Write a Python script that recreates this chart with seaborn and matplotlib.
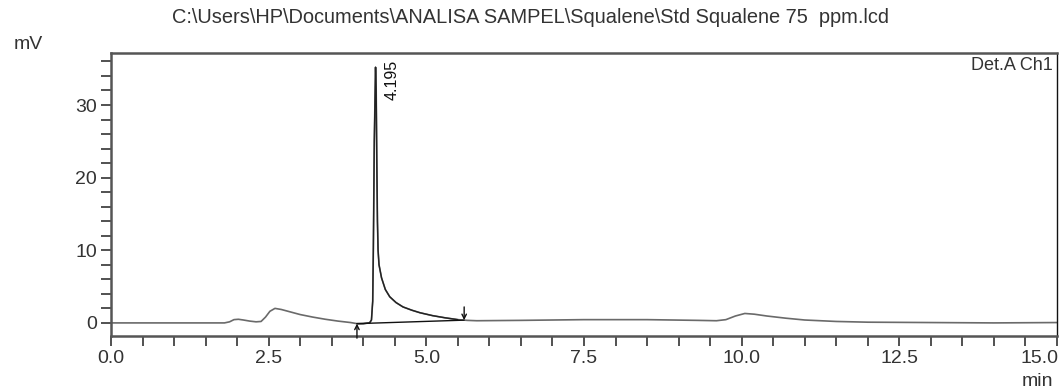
import matplotlib
matplotlib.use("Agg")
import matplotlib.pyplot as plt
from matplotlib.ticker import MultipleLocator, FuncFormatter
from matplotlib.transforms import blended_transform_factory, offset_copy
import seaborn as sns
import pandas as pd

# Chromatogram trace (retention time in min, detector signal in mV)
time_min = [
    0.0, 1.0, 1.8, 1.88, 1.95, 2.02, 2.1, 2.2, 2.3, 2.38, 2.45, 2.52, 2.6,
    2.7, 2.85, 3.0, 3.2, 3.4, 3.6, 3.8, 3.9, 4.0, 4.1, 4.13, 4.15, 4.16,
    4.175, 4.195, 4.205, 4.215, 4.225, 4.235, 4.25, 4.29, 4.35, 4.42, 4.52,
    4.63, 4.77, 4.9, 5.1, 5.3, 5.5, 5.65, 5.8, 6.5, 7.5, 8.5, 9.3, 9.6,
    9.75, 9.9, 10.05, 10.2, 10.4, 10.7, 11.0, 11.5, 12.0, 13.0, 14.0, 15.0,
]
signal_mv = [
    0.0, 0.0, 0.0, 0.15, 0.45, 0.5, 0.4, 0.25, 0.15, 0.2, 0.8, 1.6, 2.0,
    1.85, 1.5, 1.15, 0.8, 0.5, 0.25, 0.05, -0.1, -0.1, 0.0, 0.4, 3.0, 10.0,
    25.0, 35.2, 32.0, 22.0, 14.0, 10.0, 8.0, 6.2, 4.6, 3.6, 2.8,
    2.2, 1.75, 1.4, 1.0, 0.7, 0.45, 0.35, 0.3, 0.35, 0.45, 0.45, 0.35, 0.3,
    0.45, 0.95, 1.3, 1.2, 0.95, 0.65, 0.4, 0.2, 0.1, 0.05, 0.0, 0.05,
]

# Integrated peak: retention time, apex height, integration start/end
peak_rt = 4.195
peak_height = 35.2
integ_start = (3.9, -0.1)
integ_end = (5.6, 0.38)

x_max = 15.0
title_text = r"C:\Users\HP\Documents\ANALISA SAMPEL\Squalene\Std Squalene 75  ppm.lcd"
channel_text = "Det.A Ch1"

sns.set_style("white")
plt.rcParams["font.family"] = ["Liberation Sans", "DejaVu Sans"]

df = pd.DataFrame({"t": time_min, "mv": signal_mv})

fig = plt.figure(figsize=(10.62, 3.91), dpi=100)
ax = fig.add_axes([0.1045, 0.1407, 0.8908, 0.7245])

sns.lineplot(data=df, x="t", y="mv", ax=ax, color="#6a6a6a", linewidth=1.2,
             estimator=None, sort=False)
# peak region drawn darker
pk = df[(df.t >= integ_start[0]) & (df.t <= integ_end[0] + 0.05)]
sns.lineplot(data=pk, x="t", y="mv", ax=ax, color="#222222", linewidth=1.0,
             estimator=None, sort=False)

# integration baseline
ax.plot([integ_start[0], integ_end[0]], [integ_start[1], integ_end[1]],
        color="#111111", linewidth=1.0)
# start / end markers
ax.annotate("", xy=(integ_start[0], integ_start[1]), xytext=(integ_start[0], -2.1),
            arrowprops=dict(arrowstyle="->", color="#111111", lw=1.0,
                            shrinkA=0, shrinkB=0, mutation_scale=8),
            annotation_clip=False)
ax.annotate("", xy=(integ_end[0], integ_end[1]), xytext=(integ_end[0], 2.2),
            arrowprops=dict(arrowstyle="->", color="#111111", lw=1.0,
                            shrinkA=0, shrinkB=0, mutation_scale=8))

ax.annotate(f"{peak_rt:.3f}", xy=(peak_rt, peak_height), xytext=(12, 5),
            textcoords="offset points", rotation=90, ha="center", va="top",
            fontsize=11.5, color="#111111")

ax.set_xlim(0, x_max)
ax.set_ylim(-1.8, 37.2)
ax.xaxis.set_major_locator(MultipleLocator(2.5))
ax.xaxis.set_minor_locator(MultipleLocator(0.5))
# the end-of-axis label is right-aligned to its tick, drawn separately below
ax.xaxis.set_major_formatter(FuncFormatter(
    lambda v, pos: "" if abs(v - x_max) < 1e-9 else f"{v:.1f}"))
ax.yaxis.set_major_locator(MultipleLocator(10))
ax.yaxis.set_minor_locator(MultipleLocator(2))
ax.tick_params(axis="both", which="both", direction="out", length=7,
               width=1.2, color="#333333", labelsize=14, labelcolor="#333333",
               bottom=True, left=True, top=False, right=False, pad=3)
ax.set_xlabel("")
ax.set_ylabel("")

end_tr = offset_copy(blended_transform_factory(ax.transData, ax.transAxes),
                     fig=fig, x=1, y=-10, units="points")
ax.text(x_max, 0, f"{x_max:.1f}", transform=end_tr, ha="right", va="top",
        fontsize=14, color="#333333", clip_on=False)

for side in ["top", "left", "bottom"]:
    ax.spines[side].set_color("#555555")
    ax.spines[side].set_linewidth(1.8)
ax.spines["right"].set_color("#111111")
ax.spines["right"].set_linewidth(1.0)

ax.text(0.996, 0.985, channel_text, transform=ax.transAxes, ha="right", va="top",
        fontsize=13, color="#333333")
fig.text(0.5, 0.955, title_text, ha="center", va="center", fontsize=14.4,
         color="#333333")
fig.text(0.013, 0.885, "mV", ha="left", va="center", fontsize=14, color="#333333")
fig.text(0.977, 0.025, "min", ha="center", va="center", fontsize=14, color="#333333")

fig.savefig("out.png", dpi=100)
